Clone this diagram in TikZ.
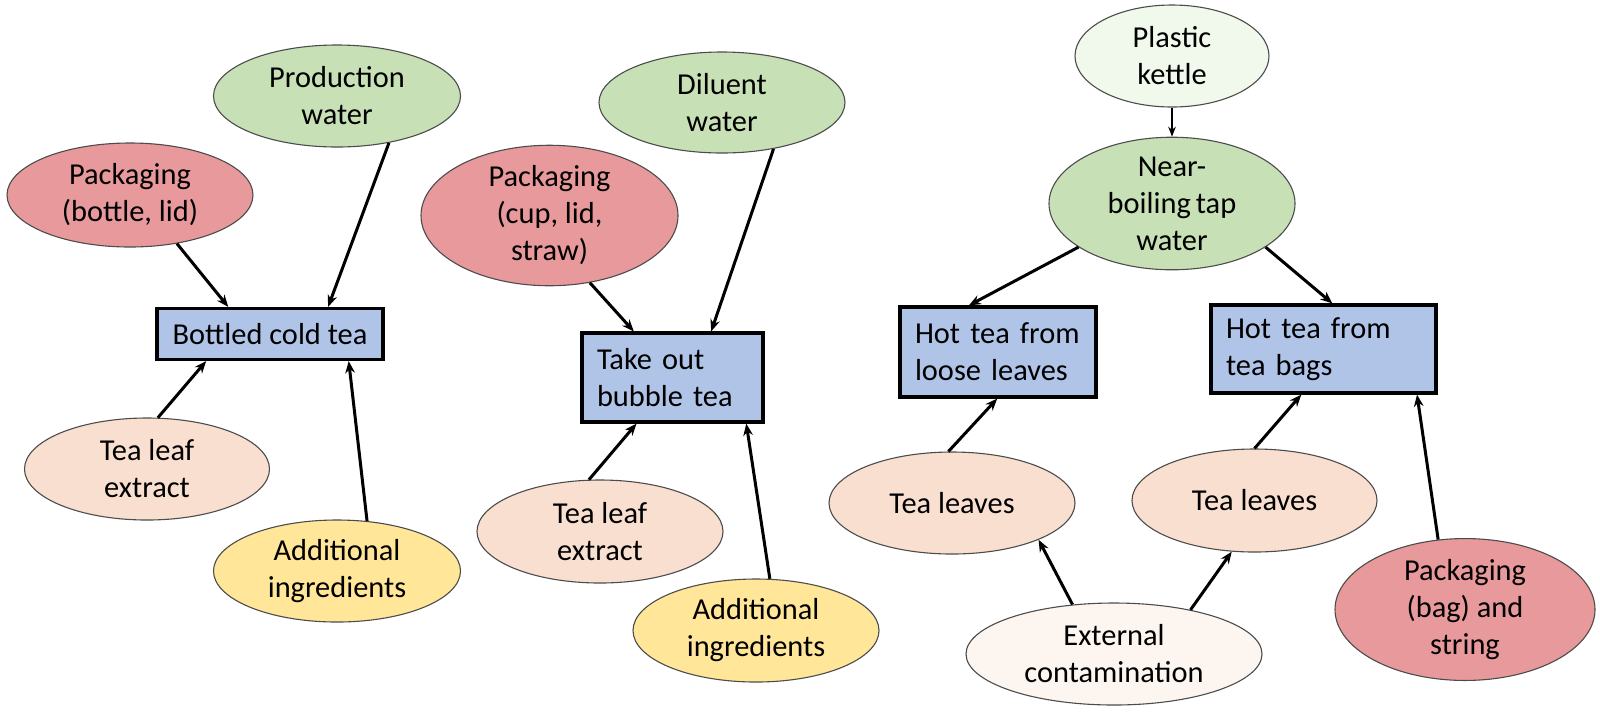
\documentclass[tikz,border=0pt]{standalone}
\usepackage{fontspec}
\setmainfont{Carlito}
\usetikzlibrary{shapes.geometric,arrows.meta}
\definecolor{cgreen}{HTML}{C7E0B5}
\definecolor{cred}{HTML}{E8999B}
\definecolor{cpeach}{HTML}{F9DFCF}
\definecolor{cyellow}{HTML}{FFE699}
\definecolor{cblue}{HTML}{B0C4E8}
\definecolor{ckettle}{HTML}{F1F8EC}
\definecolor{cext}{HTML}{FDF5EF}
\begin{document}
\begin{tikzpicture}[x=0.5pt,y=-0.5pt,
  txt/.style={font=\fontsize{15.2}{18.5}\selectfont},
  ell/.style={txt, ellipse, draw=black!70, line width=0.55pt, inner sep=0pt, align=center},
  rbox/.style={txt, rectangle, draw=black, line width=1.6pt, fill=cblue, inner sep=0pt},
  lbox/.style={rbox, align=left, inner xsep=7.5pt},
  arr/.style={-{Stealth[length=6pt,width=4.8pt]}, line width=1.5pt},
  thinarr/.style={-{Stealth[length=5pt,width=3.8pt]}, line width=0.9pt}]
\useasboundingbox (0,0) rectangle (1600,714);
% left group
\node[ell, fill=cred, minimum width=123pt, minimum height=52pt] (pk1) at (130,195) {Packaging\\(bottle, lid)};
\node[ell, fill=cgreen, minimum width=123.5pt, minimum height=51pt] (pw) at (337,96) {Production\\water};
\node[rbox, minimum width=113pt, minimum height=25.5pt] (bct) at (270,334) {Bottled cold tea};
\node[ell, fill=cpeach, minimum width=122.5pt, minimum height=51pt] (tle1) at (147,469) {Tea leaf\\extract};
\node[ell, fill=cyellow, minimum width=123.5pt, minimum height=51pt] (ai1) at (337,571) {Additional\\ingredients};
% middle group
\node[ell, fill=cgreen, minimum width=123pt, minimum height=50.5pt] (dw) at (722,102.5) {Diluent\\water};
\node[ell, fill=cred, minimum width=128.5pt, minimum height=65.5pt] (pk2) at (549.5,215.5) {Packaging\\(cup, lid,\\straw)};
\node[lbox, text width=75.5pt, minimum height=44.5pt] (tob) at (672.5,377.5) {Take out\\bubble tea};
\node[ell, fill=cpeach, minimum width=123pt, minimum height=51.5pt] (tle2) at (600,531.5) {Tea leaf\\extract};
\node[ell, fill=cyellow, minimum width=123pt, minimum height=51.5pt] (ai2) at (756,630.5) {Additional\\ingredients};
% right group
\node[ell, fill=ckettle, minimum width=97pt, minimum height=51pt] (ket) at (1172,56) {Plastic\\kettle};
\node[ell, fill=cgreen, minimum width=123pt, minimum height=58.5pt] (nb) at (1172,203.5) {Near-\\boiling\,tap\\water};
\node[lbox, text width=83pt, minimum height=45pt] (hl) at (998,352) {Hot tea from\\loose leaves};
\node[lbox, text width=97.5pt, minimum height=44pt] (hb) at (1323.5,349) {Hot tea from\\tea bags};
\node[ell, fill=cpeach, minimum width=123pt, minimum height=51pt] (tl1) at (952,503) {Tea leaves};
\node[ell, fill=cpeach, minimum width=122.5pt, minimum height=51.5pt] (tl2) at (1254.5,500.5) {Tea leaves};
\node[ell, fill=cext, minimum width=148pt, minimum height=51pt] (ext) at (1114,654) {External\\contamination};
\node[ell, fill=cred, minimum width=130pt, minimum height=65.5pt] (pk3) at (1465,609.5) {Packaging\\(bag) and\\string};
% connectors
\draw[arr] (pk1.-46) -- (bct.147);
\draw[arr] (pw.-42) -- (bct.25);
\draw[arr] (tle1.78) -- (bct.-157);
\draw[arr] (ai1.59) -- (bct.-19);
\draw[arr] (pk2.-59) -- (tob.130);
\draw[arr] (dw.-42) -- (tob.50);
\draw[arr] (tle2.102) -- (tob.-128);
\draw[arr] (ai2.75) -- (tob.-32);
\draw[thinarr] (ket) -- (nb);
\draw[arr] (nb.-155) -- (hl.122);
\draw[arr] (nb.-25) -- (hb.79);
\draw[arr] (tl1.94) -- (hl.-91);
\draw[arr] (tl2.90) -- (hb.-116);
\draw[arr] (pk3.111) -- (hb.-26);
\draw[arr] (ext.130) -- (tl1.-23);
\draw[arr] (ext.30) -- (tl2.-114);
\end{tikzpicture}
\end{document}
